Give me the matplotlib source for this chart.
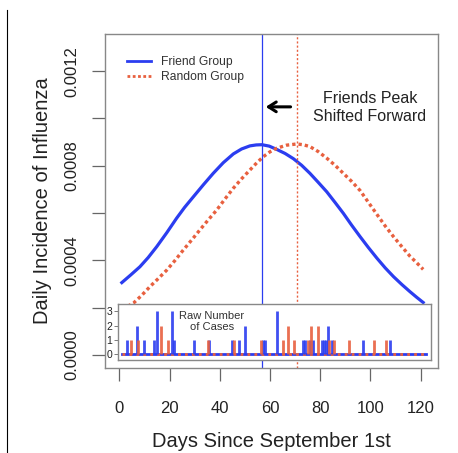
import numpy as np
import matplotlib
matplotlib.use("Agg")
from matplotlib import pyplot as plt
from matplotlib.lines import Line2D

plt.rcParams['font.family'] = ['Liberation Sans', 'DejaVu Sans']

# fitted incidence curves
friend_day = [1, 4.5, 8.2, 11.5, 14.9, 18.9, 22.8, 26, 29.5, 33.5, 37.4, 41.4, 45.4,
              48.7, 52, 54.5, 56.8, 59.7, 62.7, 66, 69.3, 72.6, 75.9, 79.2, 82.6,
              85.9, 89.2, 92.5, 95.9, 99.2, 102.6, 105.9, 109.2, 112.5, 115.7,
              118.4, 121]
friend_val = [0.000306, 0.000338, 0.000373, 0.000412, 0.000458, 0.000517, 0.000578,
              0.000624, 0.000669, 0.000720, 0.000768, 0.000813, 0.000850, 0.000871,
              0.000884, 0.000888, 0.000889, 0.000883, 0.000869, 0.000852, 0.000830,
              0.000802, 0.000768, 0.000730, 0.000690, 0.000645, 0.000599, 0.000549,
              0.000500, 0.000454, 0.000409, 0.000368, 0.000331, 0.000298, 0.000268,
              0.000244, 0.000222]
random_day = [1, 3.3, 5.6, 8.9, 12.2, 15.5, 18.9, 22.2, 25.5, 28.8, 32.1, 35.4, 38.8,
              42.1, 45.4, 48.7, 52, 54.7, 57.3, 60, 62.7, 66.6, 70.6, 73.2, 75.9,
              79.2, 82.6, 85.9, 89.2, 92.5, 95.9, 99.2, 102.6, 105.9, 109.2, 112.5,
              115.7, 118.4, 121]
random_val = [0.000197, 0.000206, 0.000219, 0.000252, 0.000289, 0.000323, 0.000359,
              0.000400, 0.000444, 0.000486, 0.000529, 0.000571, 0.000613, 0.000660,
              0.000705, 0.000745, 0.000782, 0.000812, 0.000838, 0.000859, 0.000874,
              0.000887, 0.000892, 0.000889, 0.000881, 0.000860, 0.000832, 0.000802,
              0.000768, 0.000734, 0.000695, 0.000645, 0.000594, 0.000545, 0.000500,
              0.000458, 0.000418, 0.000390, 0.000362]
friend_peak = 56.8
random_peak = 70.6

# raw case counts
friend_case_day = [2.9, 6.9, 10, 13.8, 14.9, 20.9, 21.8, 29.9, 35.8, 44.9, 47.8, 49.9,
                   57.3, 58, 62.9, 73, 74, 75.9, 77.2, 80.9, 81.6, 82.3, 83, 84.7,
                   96.9, 107.8]
friend_cases = [1, 2, 1, 1, 3, 3, 1, 1, 1, 1, 1, 2,
                1, 1, 3, 1, 1, 1, 1, 1, 1, 1, 2, 1,
                1, 1]
random_case_day = [4.5, 7.6, 16.5, 19.3, 35.4, 45.5, 56.3, 65.3, 67.3, 69.5, 75, 76.4,
                   79.3, 83.7, 85.5, 91.5, 101.5, 106.3]
random_cases = [1, 1, 2, 1, 1, 1, 1, 1, 2, 1, 1, 2,
                2, 1, 1, 1, 1, 1]

blue = '#2b3df0'
red = '#e8603f'
W, H = 458, 453

fig = plt.figure(figsize=(W / 100, H / 100), dpi=100)
ax = fig.add_axes([105 / W, 1 - 368 / H, 333 / W, 334 / H])

ax.plot(friend_day, friend_val, color=blue, lw=2.3, solid_joinstyle='round')
ax.plot(random_day, random_val, color=red, lw=2.4, linestyle=(0, (1, 0.9)))
ax.axvline(friend_peak, color=blue, lw=0.9)
ax.axvline(random_peak, color=red, lw=1.0, linestyle=(0, (1.5, 1.5)))

ax.set_xlim(-5.7, 126.9)
ax.set_ylim(-0.000055, 0.001357)
ax.set_xticks([0, 20, 40, 60, 80, 100, 120])
yt = [0, 0.0002, 0.0004, 0.0006, 0.0008, 0.0010, 0.0012]
ax.set_yticks(yt)
ax.set_yticklabels(['0.0000', '', '0.0004', '', '0.0008', '', '0.0012'],
                   rotation=90, va='center')
ax.tick_params(axis='both', direction='out', length=9.5, width=0.9, color='#666666',
               labelsize=12, labelcolor='#222222')
ax.tick_params(axis='x', pad=14)
ax.tick_params(axis='y', pad=9)
for s in ax.spines.values():
    s.set_color('#888888')
    s.set_linewidth(1.0)
ax.set_xlabel('Days Since September 1st', fontsize=14.5, color='#222222', labelpad=12)
ax.set_ylabel('Daily Incidence of Influenza', fontsize=14.5, color='#222222', labelpad=9)

ax.annotate('', xy=(friend_peak + 0.4, 0.001049), xytext=(69.3, 0.001049),
            arrowprops=dict(arrowstyle='->,head_length=0.55,head_width=0.35',
                            color='black', lw=2.2))
ax.text(99.8, 0.001047, 'Friends Peak\nShifted Forward', ha='center', va='center',
        fontsize=11.5, color='#222222', linespacing=1.2)

handles = [Line2D([], [], color=blue, lw=2.0),
           Line2D([], [], color=red, lw=2.0, linestyle=(0, (1, 0.9)))]
ax.legend(handles, ['Friend Group', 'Random Group'], loc='upper left',
          bbox_to_anchor=(127 / W, 1 - 56 / H), bbox_transform=fig.transFigure,
          frameon=False, fontsize=8.7, handlelength=2.0, handletextpad=0.8,
          labelspacing=0.25, borderpad=0, borderaxespad=0, labelcolor='#333333')

# inset with raw counts
ins = fig.add_axes([118 / W, 1 - 360 / H, 312.7 / W, 56 / H])
ins.set_facecolor('white')
ins.plot([1, 122], [0, 0], color=blue, lw=2.0)
ins.plot([1, 122], [0, 0], color=red, lw=2.0, linestyle=(0, (1, 1.5)))
ins.vlines(friend_case_day, 0, friend_cases, color=blue, lw=2.0, alpha=0.9)
ins.vlines(random_case_day, 0, random_cases, color=red, lw=2.0, alpha=0.9)
ins.set_xlim(-0.5, 124.0)
ins.set_ylim(-0.4, 3.52)
ins.set_xticks([])
ins.set_yticks([0, 1, 2, 3])
ins.tick_params(axis='y', direction='out', length=3, width=0.6, color='#666666',
                labelsize=7.5, pad=1, labelcolor='#222222')
for s in ins.spines.values():
    s.set_color('#888888')
    s.set_linewidth(1.0)
ins.text(36.8, 2.3, 'Raw Number\nof Cases', ha='center', va='center',
         fontsize=8, color='#333333', linespacing=1.1)

fig.add_artist(Line2D([7 / W, 7 / W], [0, 1 - 10 / H], color='black', lw=0.8))

fig.savefig('out.png', dpi=100)
